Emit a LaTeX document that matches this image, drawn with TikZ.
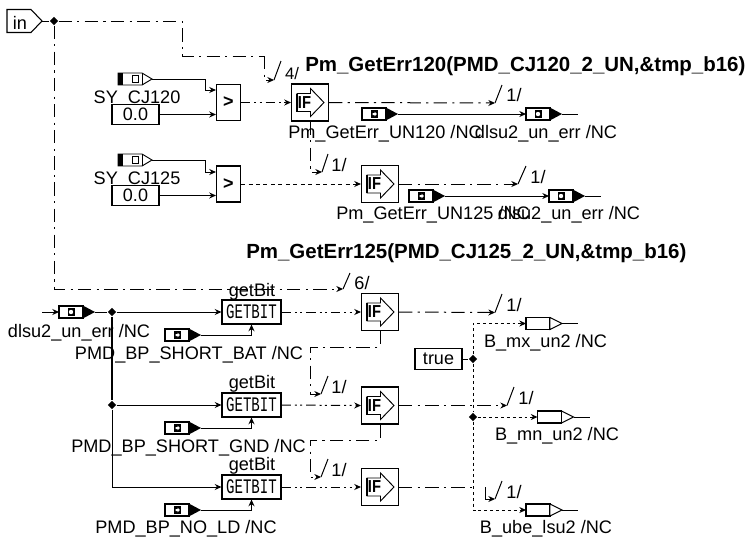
\documentclass[tikz,border=0pt]{standalone}
\usepackage{fontspec}
\setmainfont{Liberation Sans}
\newfontfamily\gbfont{Liberation Mono}
\usetikzlibrary{arrows.meta,shapes.geometric,calc}
\tikzset{
  wire/.style={line width=0.75pt,draw=black},
  tip/.style={-{Stealth[length=5pt,width=4.5pt]}},
  dashdot/.style={wire,dash pattern=on 10pt off 4pt on 1.6pt off 4pt},
  dashdots/.style={wire,dash pattern=on 7pt off 3pt on 1.5pt off 2.5pt on 1.5pt off 3pt},
  dots/.style={wire,dash pattern=on 3pt off 2.6pt},
  fine/.style={wire,dash pattern=on 2.2pt off 2.2pt},
  txt/.style={font=\fontsize{13.6pt}{14pt}\selectfont,inner sep=0pt,text=black,yshift=-1.3pt},
  title/.style={font=\fontsize{15.35pt}{16pt}\selectfont\bfseries,inner sep=0pt,yshift=-0.8pt},
  boxed/.style 2 args={draw=black,line width=0.85pt,fill=white,inner sep=0pt,minimum width=#1*0.75pt,minimum height=#2*0.75pt,font=\fontsize{13.5pt}{14pt}\selectfont},
  junct/.style={diamond,fill=black,inner sep=0pt,minimum width=6.5pt,minimum height=6.5pt},
}
% IF block centred at (x,y)
\newcommand{\ifblk}[3]{%
  \node[boxed={37}{37}] (#1) at (#2,#3) {};
  \begin{scope}[shift={(#2,#3)}]
    \draw[line width=0.7pt,fill=white] (-13,-9)--(0.5,-9)--(0.5,-14)--(14,0)--(0.5,14)--(0.5,9)--(-13,9)--cycle;
    \draw[line width=1.4pt] (-13,-9)--(-13,9);
    \node[inner sep=0pt,font=\fontsize{13pt}{13pt}\selectfont\bfseries] at (-5.5,0) {\scalebox{0.85}[1]{IF}};
  \end{scope}}
% black-tailed white-tip source (SY_...)
\newcommand{\syport}[3]{%
  \begin{scope}[shift={(#2,#3)}]
    \draw[line width=0.7pt,fill=white] (0,-6)--(24,-6)--(34,0)--(24,6)--(0,6)--cycle;
    \draw[line width=0.7pt] (24,-6)--(24,6);
    \fill[black] (0,-6) rectangle (5,6);
    \draw[line width=0.6pt] (14,-3.5) rectangle (20.5,3);
    \coordinate (#1) at (34,0);
  \end{scope}}
% white box + black tip; #4 = 0 square-arrow, 1 circle
\newcommand{\blkport}[4]{%
  \begin{scope}[shift={(#2,#3)}]
    \draw[line width=0.8pt,fill=white] (0,-6) rectangle (24,6);
    \fill[black] (24,-6.4)--(36,0)--(24,6.4)--cycle;
    \fill[black] (8.5,-3.6) rectangle (15.5,3.6);
    \ifnum#4=0 \fill[white] (10.5,-1)--(12.5,-1)--(12.5,-2.4)--(14.8,0)--(12.5,2.4)--(12.5,1)--(10.5,1)--cycle;
    \else \fill[white] (12,0) circle (2.2); \fi
    \coordinate (#1) at (36,0);
    \coordinate (#1w) at (0,0);
  \end{scope}}
% white box + white tip (outputs)
\newcommand{\wport}[3]{%
  \begin{scope}[shift={(#2,#3)}]
    \draw[line width=0.8pt,fill=white] (0,-6) rectangle (24,6);
    \draw[line width=0.7pt,fill=white] (24,-6)--(36,0)--(24,6)--cycle;
    \coordinate (#1) at (36,0);
    \coordinate (#1w) at (0,0);
  \end{scope}}
\newcommand{\gbit}[3]{%
  \node[boxed={59}{24}] (#1) at (#2,#3) {\gbfont\fontsize{15.5pt}{15pt}\selectfont\scalebox{0.68}[1]{GETBIT}};}
\begin{document}
\begin{tikzpicture}[x=0.75pt,y=-0.75pt]
\useasboundingbox (0,0) rectangle (749,540);
\fill[white] (0,0) rectangle (749,540);

% in port
\draw[line width=0.8pt] (7,9.5)--(31,9.5)--(42,21)--(31,32.5)--(7,32.5)--cycle;
\node[txt] (inlab) at (20,21) {in};
\coordinate (intip) at (42,21);
\node[junct] (jin) at (54,21) {};
\draw[wire] (intip) -- (jin);

% titles
\node[title,anchor=west] (t1) at (305,65) {Pm\_GetErr120(PMD\_CJ120\_2\_UN,\&tmp\_b16)};
\node[title,anchor=west] (t2) at (246,252) {Pm\_GetErr125(PMD\_CJ125\_2\_UN,\&tmp\_b16)};

% row 1
\syport{sy1}{118}{79}
\node[txt] (lsy1) at (137,97) {SY\_CJ120};
\node[boxed={47}{20}] (c1) at (135.5,114.5) {0.0};
\node[boxed={24}{36}] (cmp1) at (228.5,102.5) {\bfseries >};
\ifblk{if1}{310}{102.5}
\draw[wire,tip] (sy1) -- (205,79) -- (205,90) -- (cmp1.west |- 0,90);
\draw[wire,tip] (c1.east) -- (cmp1.west |- c1.east);
\draw[dashdots,tip] (cmp1.east) -- (if1.west);
\coordinate (s1a) at (274,80); \coordinate (s1b) at (281,61);
\draw[dashdot] (jin) -- (182,21) -- (182,56) -- (264,56);
\draw[dashdot,tip] (264,56) -- (264,80) -- (s1a);
\draw[wire] (s1a) -- (s1b);
\node[txt,font=\fontsize{12.5pt}{13pt}\selectfont] (n4) at (292,72) {4/};
\coordinate (s2a) at (495,103); \coordinate (s2b) at (502,85);
\draw[dashdot,tip] (if1.east) -- (s2a);
\draw[wire] (s2a) -- (s2b);
\node[txt] (n1a) at (514,93) {1/};
\blkport{p1}{362}{114}{0}
\blkport{q1}{526}{114}{1}
\draw[wire,tip] (p1) -- (q1w);
\coordinate (e1) at (578,114);
\draw[wire] (q1) -- (e1);
\node[txt] (lp1) at (385,132) {Pm\_GetErr\_UN120 /NC};
\node[txt] (lq1) at (546,132) {dlsu2\_un\_err /NC};

% row 2
\syport{sy2}{118}{160}
\node[txt] (lsy2) at (137,178) {SY\_CJ125};
\node[boxed={47}{20}] (c2) at (135.5,195.5) {0.0};
\node[boxed={24}{36}] (cmp2) at (228.5,184) {\bfseries >};
\ifblk{if2}{380}{184}
\draw[wire,tip] (sy2) -- (205,160) -- (205,172) -- (cmp2.west |- 0,172);
\draw[wire,tip] (c2.east) -- (cmp2.west |- c2.east);
\draw[dots,tip] (cmp2.east) -- (if2.west);
\coordinate (s3a) at (322,172); \coordinate (s3b) at (328,154);
\draw[dashdot,tip] (if1.south) -- (310,172) -- (s3a);
\draw[wire] (s3a) -- (s3b);
\node[txt] (n1b) at (339,163) {1/};
\coordinate (s4a) at (518,184); \coordinate (s4b) at (526,166);
\draw[dashdot,tip] (if2.east) -- (s4a);
\draw[wire] (s4a) -- (s4b);
\node[txt] (n1c) at (538,175) {1/};
\blkport{p2}{409}{196}{0}
\blkport{q2}{549}{196}{1}
\draw[wire,tip] (p2) -- (q2w);
\coordinate (e2) at (601,196);
\draw[wire] (q2) -- (e2);
\node[txt] (lp2) at (433,213) {Pm\_GetErr\_UN125 /NC};
\node[txt] (lq2) at (569,213) {dlsu2\_un\_err /NC};

% lower input
\coordinate (s0) at (42,312);
\blkport{p3}{59}{312}{1}
\draw[wire,tip] (s0) -- (p3w);
\node[txt] (lp3) at (79,331) {dlsu2\_un\_err /NC};
\node[junct] (j1) at (112,312) {};
\node[junct] (j2) at (112,405) {};
\draw[wire] (p3) -- (j1);
\draw[wire,line width=1pt] (j1) -- (j2);

% GETBIT blocks
\gbit{g1}{251.5}{312}
\gbit{g2}{251.5}{405}
\gbit{g3}{251.5}{487}
\node[txt] (gl1) at (252,290) {getBit};
\node[txt] (gl2) at (252,382) {getBit};
\node[txt] (gl3) at (252,464) {getBit};
\draw[wire,tip] (j1) -- (g1.west);
\draw[wire,tip] (j2) -- (g2.west);
\draw[wire,tip] (j2) -- (112,487) -- (g3.west);

\blkport{b1}{165}{335}{0}
\blkport{b2}{165}{428}{0}
\blkport{b3}{165}{510}{0}
\draw[wire,tip] (b1) -| (g1.south);
\draw[wire,tip] (b2) -| (g2.south);
\draw[wire,tip] (b3) -| (g3.south);
\node[txt] (lb1) at (189,353) {PMD\_BP\_SHORT\_BAT /NC};
\node[txt] (lb2) at (188.5,446) {PMD\_BP\_SHORT\_GND /NC};
\node[txt] (lb3) at (186,527) {PMD\_BP\_NO\_LD /NC};

% IF blocks lower
\ifblk{if3}{380}{312}
\ifblk{if4}{380}{405.5}
\ifblk{if5}{380}{487}
\draw[dashdots,tip] (g1.east) -- (if3.west);
\draw[dashdots,tip] (g2.east) -- (if4.west);
\draw[dashdots,tip] (g3.east) -- (if5.west);

% long "in" branch
\coordinate (s5a) at (343,289); \coordinate (s5b) at (350,273);
\draw[dashdot,tip] (jin) -- (54,289) -- (s5a);
\draw[wire] (s5a) -- (s5b);
\node[txt] (n6) at (362,281) {6/};

% enable feedback
\coordinate (s6a) at (321,394); \coordinate (s6b) at (328,376);
\draw[dashdot,tip] (if3.south) -- (380,347) -- (310,347) -- (310,394) -- (s6a);
\draw[wire] (s6a) -- (s6b);
\node[txt] (n1d) at (339,385) {1/};
\coordinate (s7a) at (321,477); \coordinate (s7b) at (328,459);
\draw[dashdot,tip] (if4.south) -- (380,440) -- (310,440) -- (310,477) -- (s7a);
\draw[wire] (s7a) -- (s7b);
\node[txt] (n1e) at (339,468) {1/};

% outputs of lower IFs
\coordinate (s8a) at (495,312.5); \coordinate (s8b) at (502,294);
\draw[dashdot,tip] (if3.east) -- (s8a);
\draw[wire] (s8a) -- (s8b);
\node[txt] (n1f) at (514,303) {1/};
\coordinate (s9a) at (507,405.5); \coordinate (s9b) at (514,387);
\draw[dashdot,tip] (if4.east) -- (s9a);
\draw[wire] (s9a) -- (s9b);
\node[txt] (n1g) at (526,396) {1/};
\coordinate (s10a) at (495,499); \coordinate (s10b) at (502,481);
\draw[dashdot] (if5.east) -- (477,487);
\draw[wire,tip] (485,487) -- (485,499) -- (s10a);
\draw[wire] (s10a) -- (s10b);
\node[txt] (n1h) at (514,490) {1/};

% true and outputs
\node[boxed={47}{21}] (tr) at (438.5,359) {true};
\node[junct] (j3) at (473,359) {};
\node[junct] (j4) at (473,417) {};
\draw[wire] (tr.east) -- (j3);
\wport{o1}{526}{323.5}
\wport{o2}{537.5}{417}
\wport{o3}{526}{510}
\draw[fine,tip] (j3) -- (473,323.5) -- (o1w);
\draw[fine] (j3) -- (j4);
\draw[fine,tip] (j4) -- (o2w);
\draw[fine,tip] (j4) -- (473,510) -- (o3w);
\coordinate (e3) at (578,323.5); \coordinate (e4) at (590,417); \coordinate (e5) at (578,510);
\draw[wire] (o1) -- (e3);
\draw[wire] (o2) -- (e4);
\draw[wire] (o3) -- (e5);
\node[txt] (lo1) at (545.5,341) {B\_mx\_un2 /NC};
\node[txt] (lo2) at (557,434) {B\_mn\_un2 /NC};
\node[txt] (lo3) at (546,527) {B\_ube\_lsu2 /NC};
\end{tikzpicture}
\end{document}
